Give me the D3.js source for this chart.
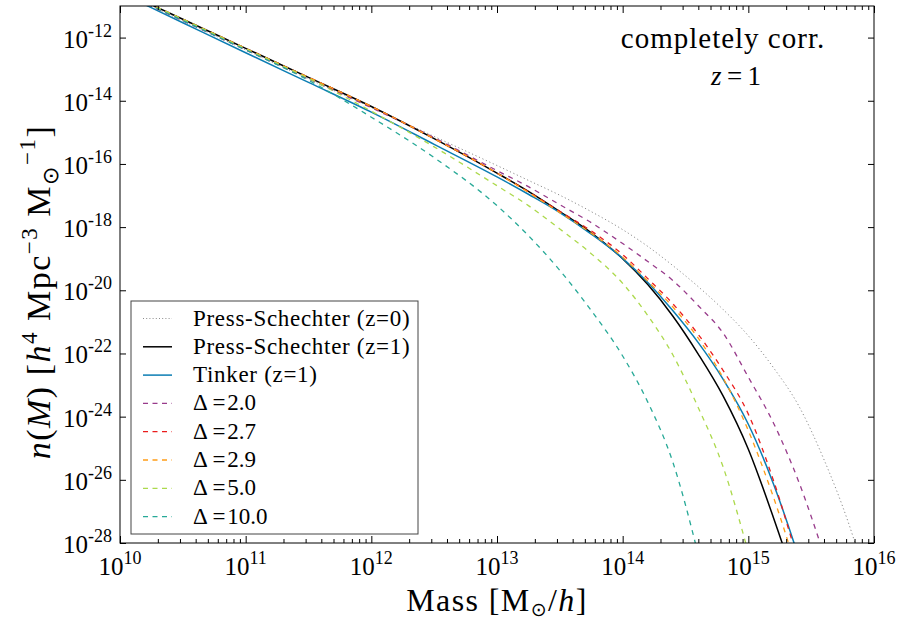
<!DOCTYPE html>
<html>
<head>
<meta charset="utf-8">
<script src="https://cdn.jsdelivr.net/npm/d3@7"></script>
<style>
  body { margin: 0; background: #fff; }
  svg { display: block; }
</style>
</head>
<body>
<div id="vis"></div>
<script>
// log10 of mass [Msun/h], shared grid
const logMass = [10, 10.5, 11, 11.5, 12, 12.5, 13, 13.25, 13.5, 13.75, 14, 14.2, 14.4, 14.6, 14.8, 15, 15.2, 15.4, 15.6, 15.8, 16];

// log10 n(M) for every curve
const psZ0     = [-10.55, -11.47, -12.39, -13.31, -14.21, -15.13, -16.05, -16.52, -16.99, -17.51, -18.08, -18.61, -19.22, -19.88, -20.61, -21.44, -22.45, -23.65, -25.34, -27.40, -30.00];
const psZ1     = [-10.50, -11.42, -12.34, -13.26, -14.18, -15.20, -16.29, -16.87, -17.51, -18.18, -19.00, -19.82, -20.82, -22.01, -23.35, -25.03, -27.20, -29.59, -32.30, -35.30, -38.61];
const tinkerZ1 = [-10.58, -11.53, -12.48, -13.42, -14.36, -15.38, -16.41, -16.96, -17.54, -18.22, -18.99, -19.75, -20.65, -21.65, -22.82, -24.24, -26.13, -28.44, -31.03, -33.81, -36.78];
const delta20  = [-10.55, -11.47, -12.39, -13.31, -14.22, -15.17, -16.21, -16.72, -17.29, -17.86, -18.52, -19.09, -19.69, -20.48, -21.36, -22.75, -24.20, -26.05, -28.35, -30.90, -33.60];
const delta27  = [-10.50, -11.42, -12.34, -13.26, -14.18, -15.20, -16.29, -16.88, -17.50, -18.12, -18.87, -19.63, -20.43, -21.39, -22.54, -23.92, -26.02, -28.60, -31.03, -33.56, -36.10];
const delta29  = [-10.50, -11.42, -12.34, -13.26, -14.18, -15.20, -16.29, -16.90, -17.54, -18.19, -18.95, -19.71, -20.53, -21.51, -22.78, -24.44, -26.55, -28.99, -31.35, -33.80, -36.40];
const delta50  = [-10.50, -11.42, -12.35, -13.29, -14.33, -15.46, -16.69, -17.32, -18.06, -18.84, -19.78, -20.80, -22.05, -23.70, -25.60, -28.30, -31.35, -34.50, -37.80, -41.00, -44.50];
const delta100 = [-10.54, -11.46, -12.39, -13.35, -14.52, -15.80, -17.32, -18.27, -19.37, -20.64, -22.08, -23.54, -25.45, -28.35, -31.90, -35.50, -39.00, -42.50, -46.00, -49.50, -53.00];

const xTickExp = [10, 11, 12, 13, 14, 15, 16];
const yTickExp = [-12, -14, -16, -18, -20, -22, -24, -26, -28];
const deltaLabels = ["2.0", "2.7", "2.9", "5.0", "10.0"];

const width = 901, height = 621;
const margin = { top: 6, right: 27, bottom: 78, left: 120 };

const svg = d3.select("#vis").append("svg")
  .attr("width", width)
  .attr("height", height);

const x = d3.scaleLog().domain([1e10, 1e16]).range([margin.left, width - margin.right]);
const y = d3.scaleLog().domain([1e-28, 1e-11]).range([height - margin.bottom, margin.top]);

const series = [
  { label: "Press-Schechter (z=0)", vals: psZ0, color: "#8c8c8c", dash: "1.2,2.6", w: 1 },
  { label: "Press-Schechter (z=1)", vals: psZ1, color: "#000000", dash: null, w: 1.5 },
  { label: "Tinker (z=1)", vals: tinkerZ1, color: "#0b7db3", dash: null, w: 1.5 },
  { delta: deltaLabels[0], vals: delta20, color: "#983b8b", dash: "5,5", w: 1.3 },
  { delta: deltaLabels[1], vals: delta27, color: "#ea1c1c", dash: "5,5", w: 1.3 },
  { delta: deltaLabels[2], vals: delta29, color: "#ff9d17", dash: "5,5", w: 1.3 },
  { delta: deltaLabels[3], vals: delta50, color: "#acd94c", dash: "5,5", w: 1.3 },
  { delta: deltaLabels[4], vals: delta100, color: "#27a997", dash: "5,5", w: 1.3 },
];

svg.append("clipPath").attr("id", "plotclip")
  .append("rect")
  .attr("x", margin.left).attr("y", margin.top)
  .attr("width", width - margin.left - margin.right)
  .attr("height", height - margin.top - margin.bottom);

const line = d3.line()
  .x(d => x(Math.pow(10, d[0])))
  .y(d => y(Math.pow(10, d[1])))
  .curve(d3.curveMonotoneX);

svg.append("g").attr("clip-path", "url(#plotclip)")
  .selectAll("path")
  .data(series)
  .join("path")
  .attr("d", s => line(logMass.map((m, i) => [m, s.vals[i]])))
  .attr("fill", "none")
  .attr("stroke", s => s.color)
  .attr("stroke-width", s => s.w)
  .attr("stroke-dasharray", s => s.dash);

// ---- axes (ticks inward on all four sides) ----
const majorX = xTickExp.map(e => Math.pow(10, e));
const minorX = x.ticks().filter(v => !majorX.some(m => Math.abs(m - v) / m < 1e-6));
const majorY = yTickExp.map(e => Math.pow(10, e));

function tickGroup(axis, tx, ty) {
  const g = svg.append("g").attr("transform", `translate(${tx},${ty})`).call(axis);
  g.select(".domain").remove();
  g.selectAll("text").remove();
  g.selectAll("line").attr("stroke", "#000");
  return g;
}
const yb = height - margin.bottom, yt = margin.top;
const xl = margin.left, xr = width - margin.right;
tickGroup(d3.axisBottom(x).tickValues(majorX).tickSize(-7), 0, yb);
tickGroup(d3.axisBottom(x).tickValues(minorX).tickSize(-4), 0, yb);
tickGroup(d3.axisTop(x).tickValues(majorX).tickSize(-7), 0, yt);
tickGroup(d3.axisTop(x).tickValues(minorX).tickSize(-4), 0, yt);
tickGroup(d3.axisLeft(y).tickValues(majorY).tickSize(-6), xl, 0);
tickGroup(d3.axisRight(y).tickValues(majorY).tickSize(-6), xr, 0);

svg.append("rect")
  .attr("x", xl).attr("y", yt)
  .attr("width", xr - xl).attr("height", yb - yt)
  .attr("fill", "none").attr("stroke", "#000").attr("stroke-width", 1);

// tick labels 10^n
const serif = "'Liberation Serif', serif";
svg.append("g").selectAll("text")
  .data(xTickExp)
  .join("text")
  .attr("x", d => x(Math.pow(10, d)))
  .attr("y", yb + 32)
  .attr("text-anchor", "middle")
  .attr("font-family", serif)
  .attr("font-size", 25)
  .each(function (d) {
    const t = d3.select(this);
    t.append("tspan").text("10");
    t.append("tspan").attr("dy", -11).attr("font-size", 18).text(d);
  });

svg.append("g").selectAll("text")
  .data(yTickExp)
  .join("text")
  .attr("x", xl - 8)
  .attr("y", d => y(Math.pow(10, d)) + 10)
  .attr("text-anchor", "end")
  .attr("font-family", serif)
  .attr("font-size", 25)
  .each(function (d) {
    const t = d3.select(this);
    t.append("tspan").text("10");
    t.append("tspan").attr("dy", -11).attr("font-size", 18).text(d);
  });

// axis labels
const xLab = svg.append("text")
  .attr("x", (xl + xr) / 2)
  .attr("y", 611)
  .attr("text-anchor", "middle")
  .attr("font-family", serif)
  .attr("font-size", 32)
  .attr("letter-spacing", 1.4);
xLab.append("tspan").text("Mass [M");
xLab.append("tspan").attr("dy", 5).attr("font-size", 19).attr("font-family", "DejaVu Sans").text("\u2299");
xLab.append("tspan").attr("dy", -5).text("/");
xLab.append("tspan").attr("font-style", "italic").text("h");
xLab.append("tspan").text("]");

const yLab = svg.append("text")
  .attr("transform", "translate(50,292) rotate(-90)")
  .attr("text-anchor", "middle")
  .attr("font-family", serif)
  .attr("font-size", 34)
  .attr("letter-spacing", 1.5);
yLab.append("tspan").attr("font-style", "italic").text("n");
yLab.append("tspan").text("(");
yLab.append("tspan").attr("font-style", "italic").text("M");
yLab.append("tspan").text(") [");
yLab.append("tspan").attr("font-style", "italic").text("h");
yLab.append("tspan").attr("dy", -13).attr("font-size", 23).text("4");
yLab.append("tspan").attr("dy", 13).text(" Mpc");
yLab.append("tspan").attr("dy", -13).attr("font-size", 23).text("\u22123");
yLab.append("tspan").attr("dy", 13).text(" M");
yLab.append("tspan").attr("dy", 8).attr("font-size", 22).attr("font-family", "DejaVu Sans").text("\u2299");
yLab.append("tspan").attr("dy", -23).attr("font-size", 23).text("\u22121");
yLab.append("tspan").attr("dy", 15).text("]");

// annotation
svg.append("text")
  .attr("x", 723).attr("y", 48)
  .attr("text-anchor", "middle")
  .attr("font-family", serif)
  .attr("font-size", 29)
  .attr("letter-spacing", 1)
  .text("completely corr.");
const zLab = svg.append("text")
  .attr("x", 736).attr("y", 85)
  .attr("text-anchor", "middle")
  .attr("font-family", serif)
  .attr("font-size", 27);
zLab.append("tspan").attr("font-style", "italic").text("z");
zLab.append("tspan").text("\u2009=\u20091");

// legend
const legX = 131, legY = 301, rowH = 28.3;
const legend = svg.append("g");
legend.append("rect")
  .attr("x", legX).attr("y", legY)
  .attr("width", 287).attr("height", 233)
  .attr("fill", "#fff").attr("stroke", "#444").attr("stroke-width", 1);

const rows = legend.selectAll("g.row")
  .data(series)
  .join("g")
  .attr("class", "row")
  .attr("transform", (d, i) => `translate(${legX},${legY + 17.5 + i * rowH})`);

rows.append("line")
  .attr("x1", 12).attr("x2", 41)
  .attr("stroke", d => d.color)
  .attr("stroke-width", d => d.w)
  .attr("stroke-dasharray", d => d.dash ? (d.delta ? "5,4.5" : "1,2.2") : null);

rows.append("text")
  .attr("x", 62)
  .attr("y", 7)
  .attr("font-family", serif)
  .attr("font-size", 23)
  .attr("letter-spacing", d => d.delta ? 0 : 0.7)
  .text(d => d.delta ? "\u0394\u2009=\u200A" + d.delta : d.label);
</script>
</body>
</html>
